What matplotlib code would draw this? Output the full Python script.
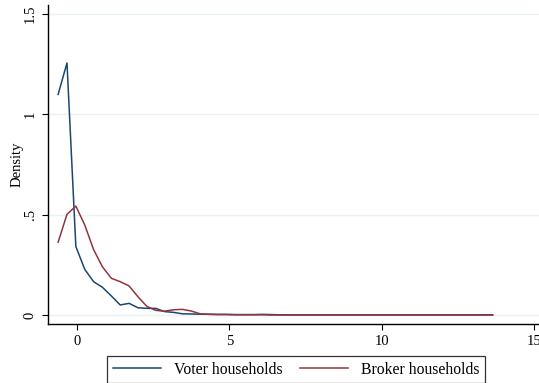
import numpy as np
import matplotlib
matplotlib.use("Agg")
import matplotlib.pyplot as plt

plt.rcParams['font.family'] = ['Liberation Serif', 'DejaVu Serif']

# evaluation grid (50 points, kdensity style)
x_start, x_end, n_pts = -0.62, 13.64, 50
xgrid = np.linspace(x_start, x_end, n_pts)

voter_head = [1.10, 1.257, 0.341, 0.228, 0.166, 0.138, 0.095, 0.050, 0.058, 0.036,
              0.033, 0.033, 0.017, 0.013, 0.006, 0.005, 0.004, 0.004, 0.003, 0.003,
              0.002, 0.002, 0.002, 0.003, 0.002, 0.001]
broker_head = [0.363, 0.502, 0.543, 0.449, 0.326, 0.240, 0.183, 0.166, 0.145, 0.091,
               0.043, 0.023, 0.019, 0.026, 0.028, 0.020, 0.006, 0.003, 0.002, 0.002,
               0.001, 0.001, 0.001, 0.001, 0.0, 0.0]
voter = voter_head + [0.001] * (n_pts - len(voter_head))
broker = broker_head + [0.0] * (n_pts - len(broker_head))

labels = ["Voter households", "Broker households"]
colors = ["#1a476f", "#90353b"]
yticks = [0, 0.5, 1, 1.5]
ytick_labels = ["0", ".5", "1", "1.5"]
xticks = [0, 5, 10, 15]

fig = plt.figure(figsize=(5.39, 3.83), dpi=100)
ax = fig.add_axes([48/539, 59/383, 1 - 48/539, (324 - 5)/383])

ax.plot(xgrid, voter, color=colors[0], lw=1.1, label=labels[0])
ax.plot(xgrid, broker, color=colors[1], lw=1.1, label=labels[1])

ax.set_xlim(-0.952, 15.16)
ax.set_ylim(-0.045, 1.546)
ax.set_yticks(yticks)
ax.set_yticklabels(ytick_labels, rotation=90, va='center')
ax.set_xticks(xticks)
ax.yaxis.grid(True, color="#eaf2f3", lw=1.0)
ax.set_axisbelow(True)
for s in ['top', 'right']:
    ax.spines[s].set_visible(False)
for s in ['left', 'bottom']:
    ax.spines[s].set_linewidth(1.0)
    ax.spines[s].set_color('black')
ax.tick_params(axis='both', labelsize=10.5, length=4, width=0.8, pad=4)
ax.set_ylabel("Density", fontsize=10.5, labelpad=0.5)

leg = fig.legend(loc='center', bbox_to_anchor=(296/539, 13.5/383), ncol=2,
                 frameon=True, fancybox=False, prop={'size': 11.3},
                 handlelength=3.1, columnspacing=1.1, borderpad=0.35,
                 handletextpad=0.8, borderaxespad=0)
leg.get_frame().set_edgecolor('black')
leg.get_frame().set_linewidth(0.9)

fig.savefig("out.png", dpi=100)
